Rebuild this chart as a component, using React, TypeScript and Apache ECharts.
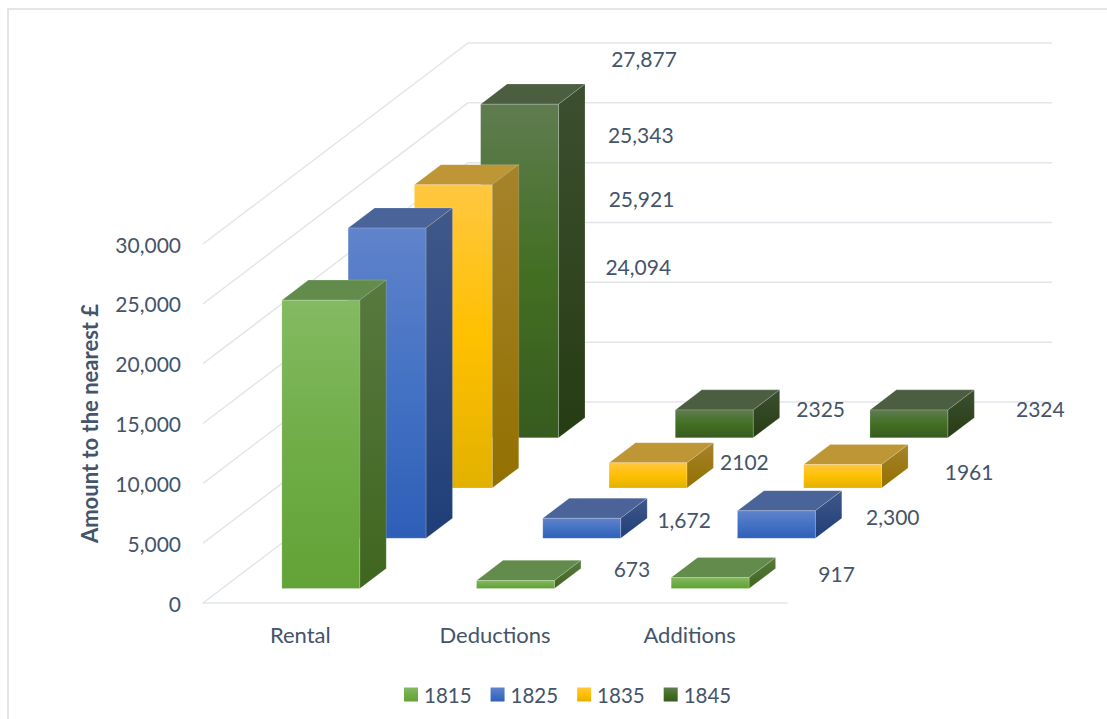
import React, { useEffect, useRef } from "react";
import * as echarts from "echarts";

const categories = ["Rental", "Deductions", "Additions"];
const years = ["1815", "1825", "1835", "1845"];
const ticks = [0, 5000, 10000, 15000, 20000, 25000, 30000];

const values1815 = [24094, 673, 917];
const values1825 = [25921, 1672, 2300];
const values1835 = [25343, 2102, 1961];
const values1845 = [27877, 2325, 2324];

const labels1815 = ["24,094", "673", "917"];
const labels1825 = ["25,921", "1,672", "2,300"];
const labels1835 = ["25,343", "2102", "1961"];
const labels1845 = ["27,877", "2325", "2324"];

const allValues = [values1815, values1825, values1835, values1845];
const allLabels = [labels1815, labels1825, labels1835, labels1845];

// label offsets from each bar's top-back-right corner (manual placement in the original)
const labelOffsets = [
  [[252, -14], [51, 8], [61, 16]],
  [[189, -9], [37, 21], [51, 26]],
  [[122, -30], [31, 19], [61, 27]],
  [[59, -26], [41, 19], [66, 19]],
];

const palette = [
  { front: ["#84BA62", "#70AD47", "#62A236"], side: ["#58793F", "#3F661F"], top: "#638C4C" },
  { front: ["#6083CB", "#4472C4", "#2E5FB7"], side: ["#40588A", "#1F3E78"], top: "#4A6499" },
  { front: ["#FFC741", "#FFC000", "#E2B100"], side: ["#A5832B", "#937000"], top: "#BE9635" },
  { front: ["#5F7C50", "#436F23", "#375B1F"], side: ["#3C4F30", "#263C13"], top: "#4B5E3F" },
];

const TEXT = "#44546A";
const LINE = "#E2E6EB";
const FONT = "Lato";
const WALL_DX = 265;
const WALL_DY = 201;
const NUDGE = 0.6;
const EDGE = "rgba(255,255,255,0.22)";

const vGrad = (stops: string[]) =>
  new echarts.graphic.LinearGradient(
    0, 0, 0, 1,
    stops.map((color, i) => ({ offset: i / (stops.length - 1), color }))
  );

function wallItem(params: any, api: any) {
  const v = api.value(0);
  const cs = params.coordSys;
  const y = api.coord([0, v])[1];
  const x0 = cs.x;
  const style = { stroke: LINE, lineWidth: 1.5, fill: "none" };
  return {
    type: "polyline",
    silent: true,
    shape: {
      points: [
        [x0, y],
        [x0 + WALL_DX, y - WALL_DY],
        [x0 + WALL_DX + cs.width, y - WALL_DY],
      ],
    },
    style,
  };
}

function barItem(s: number) {
  return (params: any, api: any) => {
    const cat = api.value(0);
    const val = api.value(1);
    const [cx, yTop] = api.coord([cat, val]);
    const [, yBase] = api.coord([cat, 0]);
    const catW = api.size([1, 0])[0];
    const barW = catW * 0.4;
    const slotX = WALL_DX / 4;
    const slotY = WALL_DY / 4;
    const dx = slotX * 0.4;
    const dy = slotY * 0.4;
    const ox = slotX * (s + 0.3) + NUDGE;
    const oy = slotY * (s + 0.3) - NUDGE;
    const l = cx - barW / 2 + ox;
    const r = l + barW;
    const t = yTop - oy;
    const b = yBase - oy;
    const p = palette[s];
    const off = labelOffsets[s][params.dataIndex];
    return {
      type: "group",
      children: [
        {
          type: "polygon",
          shape: { points: [[l, t], [r, t], [r + dx, t - dy], [l + dx, t - dy]] },
          style: { fill: p.top, stroke: EDGE, lineWidth: 0.8 },
        },
        {
          type: "polygon",
          shape: { points: [[r, t], [r + dx, t - dy], [r + dx, b - dy], [r, b]] },
          style: { fill: vGrad(p.side), stroke: EDGE, lineWidth: 0.8 },
        },
        {
          type: "polygon",
          shape: { points: [[l, t], [r, t], [r, b], [l, b]] },
          style: { fill: vGrad(p.front), stroke: EDGE, lineWidth: 0.8 },
        },
        {
          type: "text",
          style: {
            x: r + dx + off[0],
            y: t - dy + off[1],
            text: allLabels[s][params.dataIndex],
            fill: TEXT,
            font: `21px ${FONT}`,
            align: "center",
            verticalAlign: "middle",
          },
        },
      ],
    };
  };
}

export default function App() {
  const ref = useRef<HTMLDivElement>(null);
  useEffect(() => {
    const chart = echarts.init(ref.current!, null, { renderer: "svg" });
    const barSeries = years
      .map((y, s) => ({
        name: y,
        type: "custom",
        renderItem: barItem(s),
        coordinateSystem: "cartesian2d",
        itemStyle: { color: vGrad(palette[s].front) },
        encode: { x: 0, y: 1 },
        z: 10 - s,
        data: allValues[s].map((v, i) => [i, v]),
      }))
      .reverse();
    chart.setOption({
      animation: false,
      backgroundColor: "#fff",
      textStyle: { fontFamily: FONT },
      graphic: [
        {
          type: "polyline",
          silent: true,
          z: -1,
          shape: { points: [[8, 719], [8, 9], [1107, 9]] },
          style: { stroke: LINE, lineWidth: 2, fill: "none" },
        },
      ],
      grid: { left: 203, right: 320, top: 244, bottom: 116 },
      legend: {
        data: years,
        left: 404,
        top: 684,
        icon: "rect",
        itemWidth: 14,
        itemHeight: 14,
        itemGap: 19,
        selectedMode: false,
        padding: 0,
        textStyle: { color: TEXT, fontFamily: FONT, fontSize: 20.5, padding: [0, 0, 0, 1] },
      },
      xAxis: {
        type: "category",
        data: categories,
        axisTick: { show: false },
        axisLine: { show: true, lineStyle: { color: LINE, width: 1.5 } },
        axisLabel: { color: TEXT, fontFamily: FONT, fontSize: 22, margin: 20 },
        splitLine: { show: false },
      },
      yAxis: {
        type: "value",
        min: 0,
        max: 30000,
        interval: 5000,
        axisLine: { show: false },
        axisTick: { show: false },
        splitLine: { show: false },
        axisLabel: {
          color: TEXT,
          fontFamily: FONT,
          fontSize: 21,
          margin: 22,
          formatter: (v: number) => v.toLocaleString("en-US"),
        },
        name: "Amount to the nearest £",
        nameLocation: "middle",
        nameRotate: 90,
        nameGap: 103,
        nameTextStyle: { color: TEXT, fontFamily: FONT, fontSize: 22, fontWeight: "bold" },
      },
      series: [
        {
          name: "walls",
          type: "custom",
          renderItem: wallItem,
          coordinateSystem: "cartesian2d",
          encode: { y: 0 },
          silent: true,
          z: 1,
          data: ticks.map((t) => [t]),
        },
        ...barSeries,
      ],
    });
    return () => chart.dispose();
  }, []);
  return (
    <div
      ref={ref}
      style={{ position: "fixed", left: 0, top: 0, width: 1107, height: 719 }}
    />
  );
}
